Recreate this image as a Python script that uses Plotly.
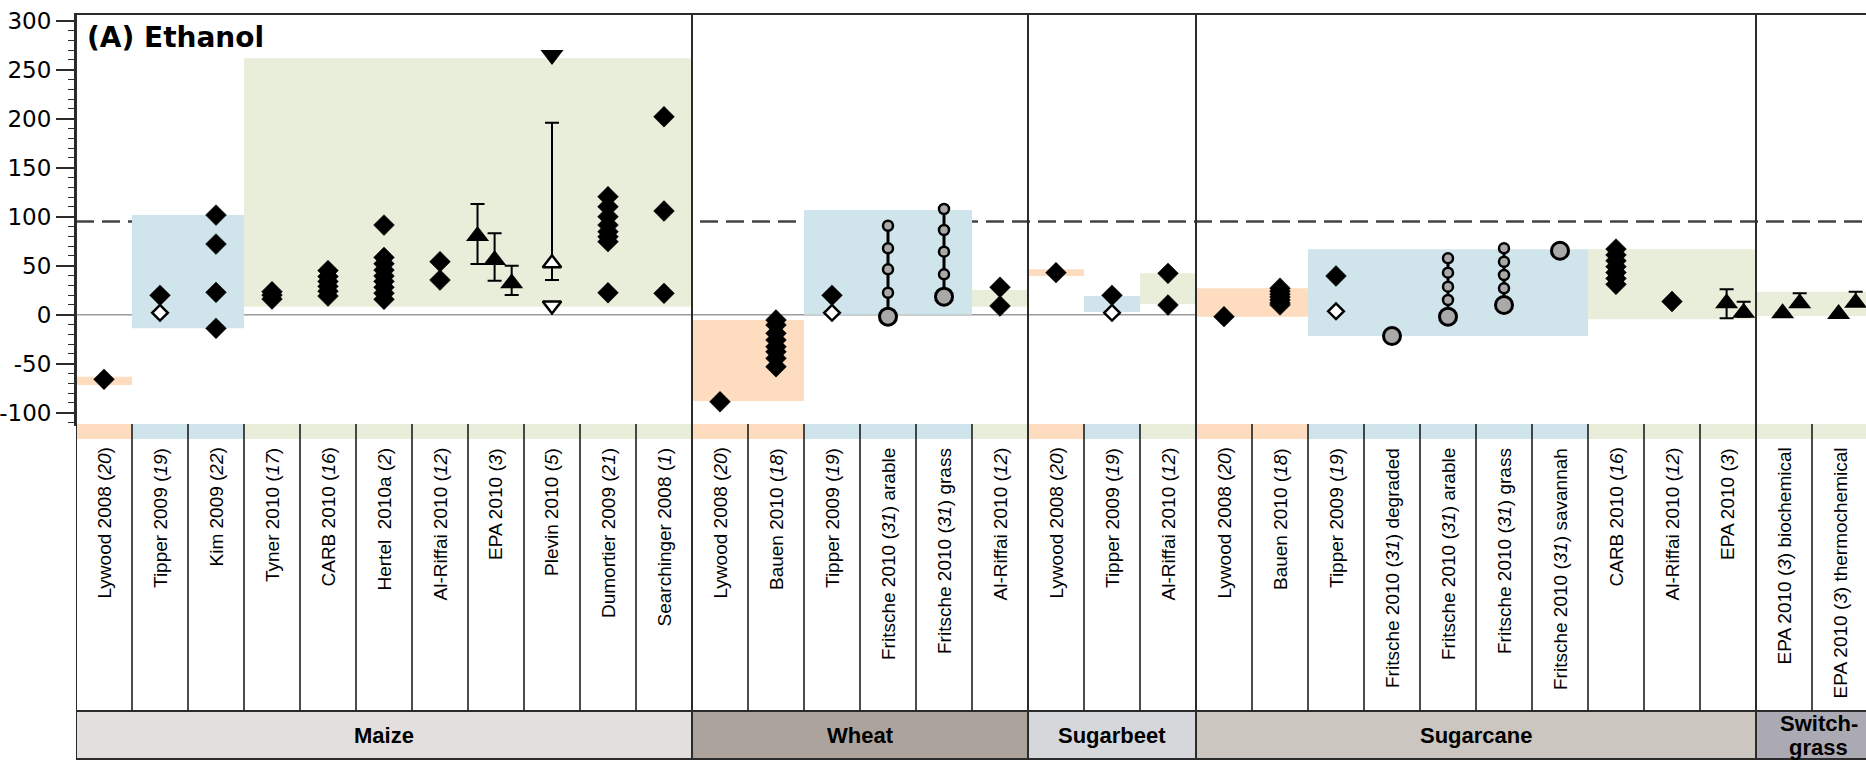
import plotly.graph_objects as go

# ---------------------------------------------------------------- data
# crops along the bottom band and how many study columns each one spans
groups = ["Maize", "Wheat", "Sugarbeet", "Sugarcane", "Switchgrass"]
group_sizes = [11, 6, 3, 10, 2]
group_fills = ["#e2dfdc", "#aba39c", "#d6d7db", "#cbc6c0", "#abaab2"]
# the last crop name is set on two lines
group_lines = [["Maize"], ["Wheat"], ["Sugarbeet"], ["Sugarcane"], ["Switch-", "grass"]]

# one label per study column (reference numbers in italics)
study_labels = [
    "Lywood 2008 (<i>20</i>)", "Tipper 2009 (<i>19</i>)", "Kim 2009 (<i>22</i>)",
    "Tyner 2010 (<i>17</i>)", "CARB 2010 (<i>16</i>)", "Hertel\u00a0 2010a (<i>2</i>)",
    "Al-Riffai 2010 (<i>12</i>)", "EPA 2010 (<i>3</i>)", "Plevin 2010 (<i>5</i>)",
    "Dumortier 2009 (<i>21</i>)", "Searchinger 2008 (<i>1</i>)",
    "Lywood 2008 (<i>20</i>)", "Bauen 2010 (<i>18</i>)", "Tipper 2009 (<i>19</i>)",
    "Fritsche 2010 (<i>31</i>) arable", "Fritsche 2010 (<i>31</i>) grass",
    "Al-Riffai 2010 (<i>12</i>)",
    "Lywood 2008 (<i>20</i>)", "Tipper 2009 (<i>19</i>)", "Al-Riffai 2010 (<i>12</i>)",
    "Lywood 2008 (<i>20</i>)", "Bauen 2010 (<i>18</i>)", "Tipper 2009 (<i>19</i>)",
    "Fritsche 2010 (<i>31</i>) degraded", "Fritsche 2010 (<i>31</i>) arable",
    "Fritsche 2010 (<i>31</i>) grass", "Fritsche 2010 (<i>31</i>) savannah",
    "CARB 2010 (<i>16</i>)", "Al-Riffai 2010 (<i>12</i>)", "EPA 2010 (<i>3</i>)",
    "EPA 2010 (<i>3</i>) biochemical", "EPA 2010 (<i>3</i>) thermochemical",
]

# approach class of each study column (colours the strip and the range boxes)
study_class = [
    "peach", "blue", "blue", "green", "green", "green", "green", "green", "green", "green", "green",
    "peach", "peach", "blue", "blue", "blue", "green",
    "peach", "blue", "green",
    "peach", "peach", "blue", "blue", "blue", "blue", "blue", "green", "green", "green",
    "green", "green",
]
class_colors = {"peach": "#fddcbf", "blue": "#cfe4eb", "green": "#e8eed9"}

# range boxes: first column, last column, low and high value
box_first = [0, 1, 3, 11, 13, 16, 17, 18, 19, 20, 22, 27, 30]
box_last = [0, 2, 10, 12, 15, 16, 17, 18, 19, 21, 26, 29, 31]
box_low = [-71.7, -13.9, 8.2, -88.1, 0.0, 8.2, 39.5, 2.8, 10.9, -2.0, -21.7, -4.5, -1.2]
box_high = [-63.2, 101.7, 261.6, -5.4, 106.8, 25.2, 46.3, 19.1, 42.2, 26.9, 66.7, 66.7, 23.5]

# point estimates (filled diamonds), keyed by study column
diamond_values = {
    0: [-65.9],
    1: [19.8],
    2: [101.7, 72.1, 22.8, -13.9],
    3: [23.5, 20.0, 16.0],
    4: [45.0, 39.0, 34.0, 29.0, 24.0, 19.0],
    5: [91.5, 58.5, 52.0, 45.5, 39.5, 34.0, 28.0, 22.0, 15.7],
    6: [54.1, 35.4],
    9: [120.4, 110.2, 100.0, 91.5, 84.7, 79.6, 74.5, 22.4],
    10: [202.0, 105.8, 21.8],
    11: [-88.8],
    12: [-5.4, -10.5, -19.0, -25.8, -32.7, -37.8, -44.5, -53.1],
    13: [19.8],
    16: [28.0, 8.9],
    17: [42.9],
    18: [19.8],
    19: [42.2, 9.9],
    20: [-2.0],
    21: [27.0, 24.0, 21.0, 18.0, 15.0, 12.0, 10.0],
    22: [39.5],
    27: [67.0, 61.0, 55.0, 49.0, 43.0, 37.0, 31.0],
    28: [13.5],
}
# open diamonds (second Tipper estimate)
open_diamond_values = {1: [2.0], 13: [2.0], 18: [2.0], 22: [3.5]}

# EPA scenarios: column, scenario slot, central value and uncertainty range
epa_col = [7, 7, 7, 29, 29, 30, 30, 31, 31]
epa_slot = [0, 1, 2, 1, 2, 1, 2, 1, 2]
epa_mid = [80.3, 55.8, 32.0, 11.6, 2.0, 1.4, 11.6, 0.7, 12.2]
epa_high = [113.0, 83.0, 50.0, 25.9, 13.3, 1.4, 21.8, 0.7, 23.5]
epa_low = [51.7, 34.7, 20.0, -3.7, -2.0, 1.4, 8.0, 0.7, 9.0]

# Plevin: central estimate with range, plus upper and lower bounds
plevin_col = 8
plevin_mid, plevin_high, plevin_low = 52.4, 195.9, 35.4
plevin_upper_bound = 265.0
plevin_lower_bound = 9.4

# Fritsche: base value (large circle) and stepped risk levels (small circles)
fritsche_col = [14, 15, 23, 24, 25, 26]
fritsche_base = [-2.0, 18.4, -21.7, -2.0, 9.9, 65.3]
fritsche_steps = [
    [22.4, 46.3, 67.7, 90.8],
    [41.2, 64.3, 86.4, 107.9],
    [],
    [15.0, 28.6, 42.9, 57.5],
    [26.9, 40.5, 54.0, 67.7],
    [],
]

reference_value = 95.0
y_ticks = [-100, -50, 0, 50, 100, 150, 200, 250, 300]
y_tick_text = ["-100", "-50", "0", "50", "100", "150", "200", "250", "300"]

# ---------------------------------------------------------------- layout geometry
W, H = 1866, 762
M_LEFT, M_TOP, M_BOTTOM = 76, 15, 338
PLOT_H = H - M_TOP - M_BOTTOM
COL_W = 56.0
x_end = (W - M_LEFT) / COL_W
n_cols = len(study_labels)


def paper_y(px):
    """paper coordinate for a pixel row measured from the top of the page"""
    return (H - M_BOTTOM - px) / PLOT_H


STRIP_BOTTOM = paper_y(439)
LABEL_TOP = paper_y(446)
CAT_TOP = paper_y(711)
CAT_BOTTOM = paper_y(759)
CAT_LINE_GAP = 24  # px between the two lines of a wrapped crop name

SANS = "Liberation Sans, Arial, Helvetica, sans-serif"
WIDE = "DejaVu Sans, Liberation Sans, Arial, sans-serif"
EDGE = "#2b2b2b"

fig = go.Figure()
shapes = []
annotations = []

# range boxes
for a, b, lo, hi in zip(box_first, box_last, box_low, box_high):
    shapes.append(dict(type="rect", xref="x", yref="y", x0=a, x1=b + 1, y0=lo, y1=hi,
                       fillcolor=class_colors[study_class[a]], line_width=0, layer="below"))

# zero line and fossil reference line
shapes.append(dict(type="line", xref="paper", yref="y", x0=0, x1=1, y0=0, y1=0,
                   line=dict(color="#9c9c9c", width=1.5), layer="below"))
shapes.append(dict(type="line", xref="paper", yref="y", x0=0, x1=1,
                   y0=reference_value, y1=reference_value,
                   line=dict(color="#444444", width=2.5, dash="18px,8px"), layer="below"))

# class strip under each column, study labels
for i, (lab, cls) in enumerate(zip(study_labels, study_class)):
    shapes.append(dict(type="rect", xref="x", yref="paper", x0=i, x1=i + 1,
                       y0=STRIP_BOTTOM, y1=0, fillcolor=class_colors[cls],
                       line_width=0, layer="above"))
    annotations.append(dict(x=i + 0.5, y=LABEL_TOP, xref="x", yref="paper", text=lab,
                            textangle=-90, xanchor="center", yanchor="top", showarrow=False,
                            font=dict(family=SANS, size=19, color="black")))

# column separators in the label area
for i in range(1, n_cols):
    shapes.append(dict(type="line", xref="x", yref="paper", x0=i, x1=i, y0=CAT_TOP, y1=0,
                       line=dict(color="#111111", width=1.5), layer="above"))

# crop band
start = 0
group_edges = []
for lines, size, fill in zip(group_lines, group_sizes, group_fills):
    end = start + size
    shapes.append(dict(type="rect", xref="x", yref="paper", x0=start, x1=end,
                       y0=CAT_BOTTOM, y1=CAT_TOP, fillcolor=fill, line_width=0, layer="above"))
    visible_end = min(end, x_end)
    cx = (start + visible_end) / 2
    if len(lines) > 1:
        cx = start + (visible_end - start) * 0.57
    n = len(lines)
    for k, txt in enumerate(lines):
        offset = (k - (n - 1) / 2) * CAT_LINE_GAP
        annotations.append(dict(x=cx, y=paper_y(735 + offset), xref="x", yref="paper",
                                text="<b>%s</b>" % txt, showarrow=False, xanchor="center",
                                yanchor="middle",
                                font=dict(family=SANS, size=22, color="black")))
    group_edges.append(end)
    start = end

# crop separators, full height
for e in [0] + group_edges[:-1]:
    shapes.append(dict(type="line", xref="x", yref="paper", x0=e, x1=e, y0=CAT_BOTTOM, y1=1,
                       line=dict(color=EDGE, width=2), layer="above"))

# horizontal rules of the label area
for yy in (CAT_TOP, CAT_BOTTOM):
    shapes.append(dict(type="line", xref="paper", yref="paper", x0=0, x1=1, y0=yy, y1=yy,
                       line=dict(color=EDGE, width=2), layer="above"))

# panel title
annotations.append(dict(x=(85 - M_LEFT) / (W - M_LEFT), y=paper_y(38), xref="paper", yref="paper",
                        text="<b>(A) Ethanol</b>", showarrow=False, xanchor="left",
                        yanchor="middle", font=dict(family=WIDE, size=28, color="black")))

# ---------------------------------------------------------------- marks
# Fritsche stepped series
for c, base, steps in zip(fritsche_col, fritsche_base, fritsche_steps):
    if steps:
        fig.add_trace(go.Scatter(x=[c + 0.5] * (len(steps) + 1), y=[base] + steps,
                                 mode="lines", line=dict(color="black", width=3),
                                 hoverinfo="skip"))
small_x, small_y = [], []
for c, steps in zip(fritsche_col, fritsche_steps):
    small_x += [c + 0.5] * len(steps)
    small_y += steps
fig.add_trace(go.Scatter(x=small_x, y=small_y, mode="markers",
                         marker=dict(symbol="circle", size=10, color="#a9a9a9",
                                     line=dict(color="black", width=2.5))))
fig.add_trace(go.Scatter(x=[c + 0.5 for c in fritsche_col], y=fritsche_base, mode="markers",
                         marker=dict(symbol="circle", size=17, color="#a9a9a9",
                                     line=dict(color="black", width=3))))

# filled diamonds
dx, dy = [], []
for c, vals in diamond_values.items():
    dx += [c + 0.5] * len(vals)
    dy += vals
fig.add_trace(go.Scatter(x=dx, y=dy, mode="markers",
                         marker=dict(symbol="diamond", size=16, color="black",
                                     line=dict(color="black", width=0.5))))

# open diamonds
ox, oy = [], []
for c, vals in open_diamond_values.items():
    ox += [c + 0.5] * len(vals)
    oy += vals
fig.add_trace(go.Scatter(x=ox, y=oy, mode="markers",
                         marker=dict(symbol="diamond", size=12, color="white",
                                     line=dict(color="black", width=2.5))))

# EPA scenarios with uncertainty ranges
ex = [c + 0.17 + 0.305 * s for c, s in zip(epa_col, epa_slot)]
fig.add_trace(go.Scatter(
    x=ex, y=epa_mid, mode="markers",
    marker=dict(symbol="triangle-up", size=20, color="black"),
    error_y=dict(type="data", symmetric=False,
                 array=[h - m for h, m in zip(epa_high, epa_mid)],
                 arrayminus=[m - l for m, l in zip(epa_mid, epa_low)],
                 color="black", thickness=2, width=7)))

# Plevin range and bounds
px_mid = plevin_col + 0.5
fig.add_trace(go.Scatter(
    x=[px_mid], y=[plevin_mid], mode="markers",
    marker=dict(symbol="triangle-up", size=16, color="white",
                line=dict(color="black", width=2.5)),
    error_y=dict(type="data", symmetric=False, array=[plevin_high - plevin_mid],
                 arrayminus=[plevin_mid - plevin_low], color="black", thickness=2, width=7)))
fig.add_trace(go.Scatter(x=[px_mid], y=[plevin_upper_bound], mode="markers",
                         marker=dict(symbol="triangle-down", size=20, color="black")))
fig.add_trace(go.Scatter(x=[px_mid], y=[plevin_lower_bound], mode="markers",
                         marker=dict(symbol="triangle-down", size=16, color="white",
                                     line=dict(color="black", width=2.5))))

fig.update_layout(
    width=W, height=H, autosize=False,
    margin=dict(l=M_LEFT, r=0, t=M_TOP, b=M_BOTTOM, pad=0),
    paper_bgcolor="white", plot_bgcolor="white",
    showlegend=False,
    shapes=shapes, annotations=annotations,
    xaxis=dict(range=[0, x_end], showgrid=False, zeroline=False, showticklabels=False,
               ticks="", showline=True, mirror=True, linecolor=EDGE, linewidth=2,
               fixedrange=True),
    yaxis=dict(range=[-111.5, 305.8], tickmode="array", tickvals=y_ticks, ticktext=y_tick_text,
               ticks="outside", ticklen=18, tickwidth=1.5, tickcolor=EDGE,
               showline=True, linecolor=EDGE, linewidth=2, showgrid=False, zeroline=False,
               tickfont=dict(family=WIDE, size=23, color="black"),
               minor=dict(dtick=10, tick0=0, ticks="outside", ticklen=6, tickwidth=1,
                          tickcolor=EDGE, showgrid=False),
               fixedrange=True),
)

fig.write_html("out.html")
